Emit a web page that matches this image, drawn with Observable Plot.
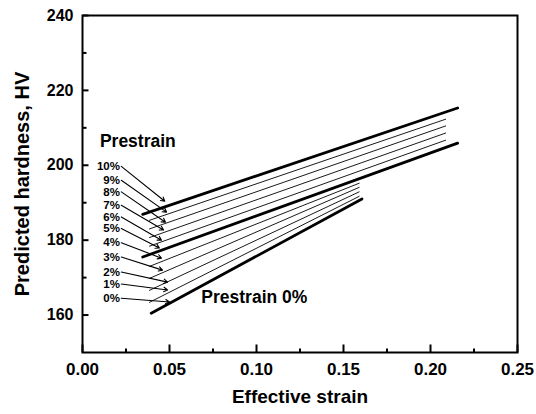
<!DOCTYPE html>
<html><head><meta charset="utf-8">
<script src="https://cdn.jsdelivr.net/npm/d3@7"></script>
<script src="https://cdn.jsdelivr.net/npm/@observablehq/plot@0.6"></script>
<style>body{margin:0;background:#fff} svg{display:block}</style>
</head><body><div id="chart"></div>
<script>
// Prestrain levels and the start/end of each predicted-hardness line
const prestrain = ["0%","1%","2%","3%","4%","5%","6%","7%","8%","9%","10%"];
const startStrain = [0.0395,0.0385,0.0385,0.0385,0.0385,0.0346,0.0385,0.0385,0.0385,0.0385,0.0346];
const startHV     = [160.5,163.4,166.6,169.8,173.0,175.5,178.4,180.7,183.0,185.3,186.9];
const endStrain   = [0.1606,0.159,0.159,0.159,0.159,0.2156,0.2087,0.2087,0.2087,0.2087,0.2156];
const endHV       = [191.0,191.7,192.9,194.1,195.2,205.9,206.7,208.6,210.5,212.3,215.3];
const boldLines = ["0%","5%","10%"];

// Label annotations (strain, HV) and the points their arrows reach
const labelStrain = 0.0215;
const labelHV   = [164.5,168.3,171.5,175.5,179.3,183.1,186.2,189.3,192.9,196.0,199.7];
const arrowStrain = [0.0500,0.0489,0.0489,0.0460,0.0454,0.0442,0.0454,0.0466,0.0477,0.0483,0.0473];
const arrowHV     = [163.5,166.7,168.8,172.0,175.2,177.9,180.0,182.7,184.8,187.5,190.4];

const xDomain = [0, 0.25];
const yDomain = [150, 240];
const xTicks = [0,0.05,0.10,0.15,0.20,0.25];
const xMinor = [0.025,0.075,0.125,0.175,0.225];
const yTicks = [160,180,200,220,240];
const yMinor = [170,190,210,230];

const notes = [
  {x: 0.0100, y: 206.5, text: "Prestrain"},
  {x: 0.0683, y: 164.7, text: "Prestrain 0%"}
];

const lineRows = prestrain.flatMap((p,i) => [
  {p, x: startStrain[i], y: startHV[i]},
  {p, x: endStrain[i], y: endHV[i]}
]);
const labelRows = prestrain.map((p,i) => ({p, y: labelHV[i], x2: arrowStrain[i], y2: arrowHV[i]}));

const W = 536, H = 414, mL = 82, mR = 19, mT = 15, mB = 62;
const fw = W - mL - mR, fh = H - mT - mB;
// convert a tick length in pixels to data units along each axis
const xPx = (xDomain[1] - xDomain[0]) / fw;
const yPx = (yDomain[1] - yDomain[0]) / fh;

const chart = Plot.plot({
  width: W, height: H,
  marginLeft: mL, marginRight: mR, marginTop: mT, marginBottom: mB,
  style: {fontFamily: "'Liberation Sans', Arial, sans-serif", fontWeight: "bold", color: "#000", background: "#fff"},
  x: {domain: xDomain},
  y: {domain: yDomain},
  marks: [
    Plot.axisX({ticks: xTicks, tickFormat: d3.format(".2f"), tickSize: 0, tickPadding: 10, fontSize: 17, label: null}),
    Plot.axisY({ticks: yTicks, tickSize: 0, tickPadding: 9, fontSize: 16, label: null}),
    // inward tick marks
    Plot.link(xTicks, {x1: d => d, x2: d => d, y1: () => yDomain[0], y2: () => yDomain[0] + 8 * yPx, stroke: "#000", strokeWidth: 2}),
    Plot.link(xMinor, {x1: d => d, x2: d => d, y1: () => yDomain[0], y2: () => yDomain[0] + 4 * yPx, stroke: "#000", strokeWidth: 2}),
    Plot.link(yTicks, {y1: d => d, y2: d => d, x1: () => xDomain[0], x2: () => xDomain[0] + 6 * xPx, stroke: "#000", strokeWidth: 2}),
    Plot.link(yMinor, {y1: d => d, y2: d => d, x1: () => xDomain[0], x2: () => xDomain[0] + 4 * xPx, stroke: "#000", strokeWidth: 2}),
    Plot.frame({strokeWidth: 2}),
    Plot.line(lineRows, {x: "x", y: "y", z: "p", stroke: "#000",
      strokeWidth: d => boldLines.includes(d.p) ? 2.8 : 0.9}),
    Plot.arrow(labelRows, {x1: () => labelStrain + 0.0008, y1: "y", x2: "x2", y2: "y2", stroke: "#000", strokeWidth: 1.1, headLength: 6}),
    Plot.text(labelRows, {x: () => labelStrain, y: "y", text: "p", textAnchor: "end", fontSize: 11.5, fontWeight: "bold"}),
    Plot.text(notes, {x: "x", y: "y", text: "text", textAnchor: "start", fontSize: 17.5, fontWeight: "bold"}),
    Plot.text(["Effective strain"], {frameAnchor: "bottom", dy: 50, fontSize: 19, fontWeight: "bold"}),
    Plot.text(["Predicted hardness, HV"], {frameAnchor: "left", textAnchor: "middle", dx: -60, rotate: -90, fontSize: 20, fontWeight: "bold"})
  ]
});
document.getElementById("chart").append(chart);
</script>
</body></html>
